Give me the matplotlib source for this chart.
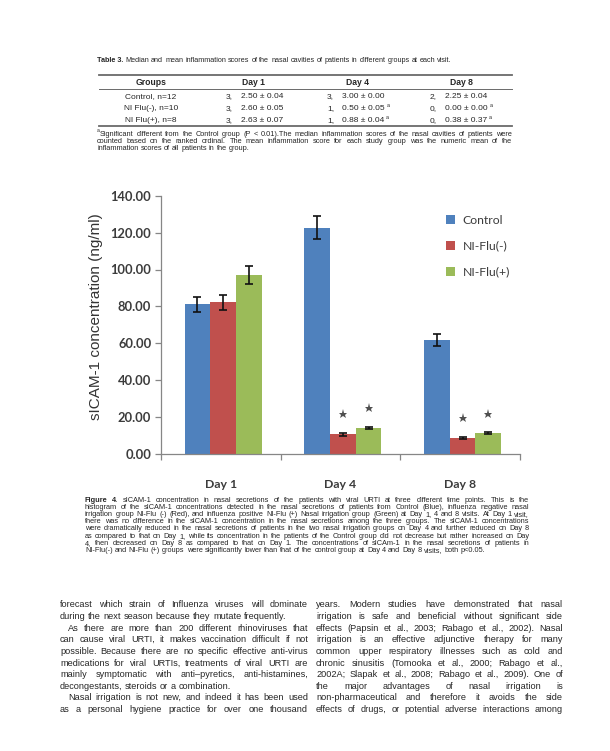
import matplotlib
matplotlib.use("Agg")
import matplotlib.pyplot as plt
from matplotlib.font_manager import FontProperties
from matplotlib.patches import Patch
import numpy as np

# ---------------- data ----------------
categories = ["Day 1", "Day 4", "Day 8"]
series_names = ["Control", "NI-Flu(-)", "NI-Flu(+)"]
control = [81.2, 122.7, 61.8]
control_err = [4.0, 6.1, 3.0]
ni_neg = [82.3, 10.8, 8.9]
ni_neg_err = [4.1, 0.8, 0.5]
ni_pos = [97.0, 14.1, 11.2]
ni_pos_err = [5.0, 0.8, 0.5]
control_sig = [False, False, False]
ni_neg_sig = [False, True, True]
ni_pos_sig = [False, True, True]
y_ticks = [0, 20, 40, 60, 80, 100, 120, 140]

table_title_bold = "Table 3."
table_title = "Median and mean inflammation scores of the nasal cavities of patients in different groups at each visit."
table_header = ["Groups", "Day 1", "Day 4", "Day 8"]
table_groups = ["Control, n=12", "NI Flu(-), n=10", "NI Flu(+), n=8"]
median_scores = [["3,", "3,", "2,"], ["3,", "1,", "0,"], ["3,", "1,", "0,"]]
mean_scores = [["2.50 ± 0.04", "3.00 ± 0.00", "2.25 ± 0.04"],
               ["2.60 ± 0.05", "0.50 ± 0.05", "0.00 ± 0.00"],
               ["2.63 ± 0.07", "0.88 ± 0.04", "0.38 ± 0.37"]]
mean_sig = [[False, False, False], [False, True, True], [False, True, True]]

footnote_lines = [
    "Significant different from the Control group (P < 0.01).The median inflammation scores of the nasal cavities of patients were",
    "counted based on the ranked ordinal. The mean inflammation score for each study group was the numeric mean of the",
    "inflammation scores of all patients in the group.",
]
caption_lines = [
    "Figure 4. sICAM-1 concentration in nasal secretions of the patients with viral URTI at three different time points. This is the",
    "histogram of the sICAM-1 concentrations detected in the nasal secretions of patients from Control (Blue), influenza negative nasal",
    "irrigation group NI-Flu (-) (Red), and influenza positive NI-Flu (+) Nasal irrigation group (Green) at Day 1, 4 and 8 visits. At Day 1 visit,",
    "there was no difference in the sICAM-1 concentration in the nasal secretions among the three groups. The sICAM-1 concentrations",
    "were dramatically reduced in the nasal secretions of patients in the two nasal irrigation groups on Day 4 and further reduced on Day 8",
    "as compared to that on Day 1, while its concentration in the patients of the Control group did not decrease but rather increased on Day",
    "4, then decreased on Day 8 as compared to that on Day 1. The concentrations of sICAm-1 in the nasal secretions of patients in",
    "NI-Flu(-) and NI-Flu (+) groups were significantly lower than that of the control group at Day 4 and Day 8 visits, both p<0.05.",
]
left_col_lines = [
    "forecast which strain of Influenza viruses will dominate",
    "during the next season because they mutate frequently.",
    "As there are more than 200 different rhinoviruses that",
    "can cause viral URTI, it makes vaccination difficult if not",
    "possible. Because there are no specific effective anti-virus",
    "medications for viral URTIs, treatments of viral URTI are",
    "mainly symptomatic with anti\u2013pyretics, anti-histamines,",
    "decongestants, steroids or a combination.",
    "Nasal irrigation is not new, and indeed it has been used",
    "as a personal hygiene practice for over one thousand",
]
left_col_last = [False, True, False, False, False, False, False, True, False, False]
left_col_indent = [False, False, True, False, False, False, False, False, True, False]
right_col_lines = [
    "years. Modern studies have demonstrated that nasal",
    "irrigation is safe and beneficial without significant side",
    "effects (Papsin et al., 2003; Rabago et al., 2002). Nasal",
    "irrigation is an effective adjunctive therapy for many",
    "common upper respiratory illnesses such as cold and",
    "chronic sinusitis (Tomooka et al., 2000; Rabago et al.,",
    "2002A; Slapak et al., 2008; Rabago et al., 2009). One of",
    "the major advantages of nasal irrigation is",
    "non-pharmaceutical and therefore it avoids the side",
    "effects of drugs, or potential adverse interactions among",
]

# ---------------- figure ----------------
W, H = 610, 751
DPI = 100
fig = plt.figure(figsize=(W / DPI, H / DPI), dpi=DPI)
fig.patch.set_facecolor("white")
renderer = fig.canvas.get_renderer()

TXT = "#262626"
BODY_FONT = "Liberation Sans"


def fx(x):
    return x / W


def fy(y):
    return 1 - y / H


def wid(s, prop):
    w, h, d = renderer.get_text_width_height_descent(s, prop, ismath=False)
    return w


def natural(words, size, bold_n=0):
    ps = [FontProperties(family=BODY_FONT, size=size,
                         weight="bold" if i < bold_n else "normal") for i in range(len(words))]
    sp = wid("a a", ps[-1]) - wid("aa", ps[-1])
    return sum(wid(w, p) for w, p in zip(words, ps)) + sp * (len(words) - 1)


def fit_size(lines, widths, base=6.0, fill=0.975, bold_first=0):
    ratios = []
    for i, (ln, tw) in enumerate(zip(lines, widths)):
        nw = natural(ln.split(" "), base, bold_first if i == 0 else 0)
        ratios.append(tw * fill / nw)
    return base * min(ratios)


def put_line(words, x0, x1, yc, size, justify, bold_n=0, color=TXT, family=BODY_FONT):
    props = []
    for i, _ in enumerate(words):
        props.append(FontProperties(family=family, size=size,
                                    weight="bold" if i < bold_n else "normal"))
    widths = [wid(w, p) for w, p in zip(words, props)]
    sp = wid("a a", props[-1]) - wid("aa", props[-1])
    if justify and len(words) > 1:
        gap = (x1 - x0 - sum(widths)) / (len(words) - 1)
    else:
        gap = sp
    x = x0
    base = round(yc + 0.36 * size * DPI / 72)
    for w, p, ww in zip(words, props, widths):
        fig.text(fx(x), fy(base), w, fontproperties=p, color=color,
                 ha="left", va="baseline")
        x += ww + gap
    return x


# ---------------- table ----------------
put_line([table_title_bold] + table_title.split(" "), 97, 512, 59, 5.25, False, bold_n=1)

rule_x0, rule_x1 = 99, 512
for yy, lw in [(75, 1.3), (89, 0.7), (125.5, 1.3)]:
    fig.add_artist(plt.Line2D([fx(rule_x0), fx(rule_x1)], [fy(yy), fy(yy)],
                              color="#6a6a6a", lw=lw, transform=fig.transFigure))

header_x = [151, 253, 357, 461]
hprop = FontProperties(family=BODY_FONT, size=6.2, weight="bold")
for hx, ht in zip(header_x, table_header):
    fig.text(fx(hx), fy(85), ht, ha="center", va="baseline",
             fontproperties=hprop, color=TXT)

row_y = [98, 110.5, 122.5]
score_x = [226, 327, 430]
value_x = [241, 342, 445]
tprop = FontProperties(family=BODY_FONT, size=6.0)
for r, gname in enumerate(table_groups):
    fig.text(fx(151), fy(row_y[r]), gname, ha="center", va="baseline",
             fontproperties=tprop, color=TXT)
    for c in range(3):
        sx = score_x[c] + (wid("3,", tprop) - wid(median_scores[r][c], tprop))
        fig.text(fx(sx), fy(row_y[r]), median_scores[r][c], ha="left", va="baseline",
                 fontproperties=tprop, color=TXT)
        fig.text(fx(value_x[c]), fy(row_y[r]), mean_scores[r][c], ha="left", va="baseline",
                 fontproperties=tprop, color=TXT)
        if mean_sig[r][c]:
            ex = value_x[c] + wid(mean_scores[r][c], tprop) + 2
            fig.text(fx(ex), fy(row_y[r] - 3.5), "a", ha="left", va="baseline",
                     fontsize=3.8, family=BODY_FONT, color=TXT)

# footnote
fig.text(fx(97), fy(132), "a", ha="left", va="baseline", fontsize=3.6,
         family=BODY_FONT, color=TXT)
foot_y = [133, 140.2, 147.4]
foot_x0 = [100, 97, 97]
fs_foot = fit_size(footnote_lines[:2], [512 - foot_x0[0], 512 - foot_x0[1]], fill=0.99)
for i, ln in enumerate(footnote_lines):
    put_line(ln.split(" "), foot_x0[i], 512, foot_y[i], fs_foot, i < len(footnote_lines) - 1)

# ---------------- chart ----------------
ax_l, ax_r, ax_t, ax_b = 161, 520, 195.7, 454
ax = fig.add_axes([fx(ax_l), fy(ax_b), (ax_r - ax_l) / W, (ax_b - ax_t) / H])
ax.set_facecolor("white")

colors = ["#4F81BD", "#C0504D", "#9BBB59"]
vals = [control, ni_neg, ni_pos]
errs = [control_err, ni_neg_err, ni_pos_err]
sigs = [control_sig, ni_neg_sig, ni_pos_sig]
x = np.arange(len(categories))
bw = 0.215
offsets = [-bw + 0.02, 0.02, bw + 0.02]
handles = []
for k in range(3):
    xs = x + offsets[k]
    ax.bar(xs, vals[k], width=bw, color=colors[k], edgecolor="none", zorder=2)
    handles.append(Patch(facecolor=colors[k], edgecolor="none"))
    ax.errorbar(xs, vals[k], yerr=errs[k], fmt="none", ecolor="#111111",
                elinewidth=1.2, capsize=3, capthick=1.2, zorder=3)
    for xi, v, e, s in zip(xs, vals[k], errs[k], sigs[k]):
        if s:
            ax.plot([xi], [v + e + 10.2], marker="*", markersize=6.5,
                    color="#505050", markeredgewidth=0, zorder=4)

ax.set_xlim(-0.5, 2.5)
ax.set_ylim(0, 140)
ax.set_yticks(y_ticks)
ax.set_yticklabels([f"{t:.2f}" for t in y_ticks])
ax.set_xticks(x)
ax.set_xticklabels(categories)
ax.set_xticks([-0.5, 0.5, 1.5, 2.5], minor=True)
ax.tick_params(axis="x", which="major", length=0, pad=18)
ax.tick_params(axis="x", which="minor", length=4, width=0.9, color="#868686", direction="out")
ax.tick_params(axis="y", length=4, width=0.9, color="#868686", direction="out", pad=3)
for lab in ax.get_yticklabels() + ax.get_xticklabels():
    lab.set_fontfamily("Lato")
    lab.set_fontweight("bold")
    lab.set_color("#3c3c3c")
for lab in ax.get_yticklabels():
    lab.set_fontsize(9.3)
for lab in ax.get_xticklabels():
    lab.set_fontsize(8.8)
for s in ["top", "right"]:
    ax.spines[s].set_visible(False)
for s in ["left", "bottom"]:
    ax.spines[s].set_color("#868686")
    ax.spines[s].set_linewidth(0.9)

fig.text(fx(96), fy(316.5), "sICAM-1 concentration (ng/ml)", rotation=90,
         ha="center", va="center", fontsize=11, family=BODY_FONT, color="#333333")

leg = ax.legend(handles, series_names, loc="upper left",
                bbox_to_anchor=(fx(446), fy(215)), bbox_transform=fig.transFigure,
                frameon=False, handlelength=0.75, handleheight=0.75,
                handletextpad=0.6, labelspacing=1.2, borderpad=0, borderaxespad=0,
                prop=FontProperties(family="Lato", size=8.8))
for t in leg.get_texts():
    t.set_color("#3c3c3c")

# ---------------- caption ----------------
cap_x0, cap_x1 = 85, 529
cap_y0, cap_dy = 499, 7.2
fs_cap = fit_size(caption_lines[:-1], [cap_x1 - cap_x0] * 7, fill=1.0, bold_first=2)
for i, ln in enumerate(caption_lines):
    put_line(ln.split(" "), cap_x0, cap_x1, cap_y0 + i * cap_dy, fs_cap,
             i < len(caption_lines) - 1, bold_n=2 if i == 0 else 0)

# ---------------- body text ----------------
body_y0, body_dy = 604, 11.65
lc0, lc1, rc0, rc1 = 60, 308, 316, 563
just_left = [ln for ln, last in zip(left_col_lines, left_col_last) if not last]
fs_body = fit_size(just_left + right_col_lines[:7] + right_col_lines[8:],
                   [lc1 - lc0] * (len(just_left)) + [rc1 - rc0] * 9, fill=0.96)
for i, ln in enumerate(left_col_lines):
    x0 = lc0 + (8 if left_col_indent[i] else 0)
    put_line(ln.split(" "), x0, lc1, body_y0 + i * body_dy, fs_body, not left_col_last[i])
for i, ln in enumerate(right_col_lines):
    put_line(ln.split(" "), rc0, rc1, body_y0 + i * body_dy, fs_body, True)

fig.savefig("out.png", dpi=DPI, facecolor="white")
